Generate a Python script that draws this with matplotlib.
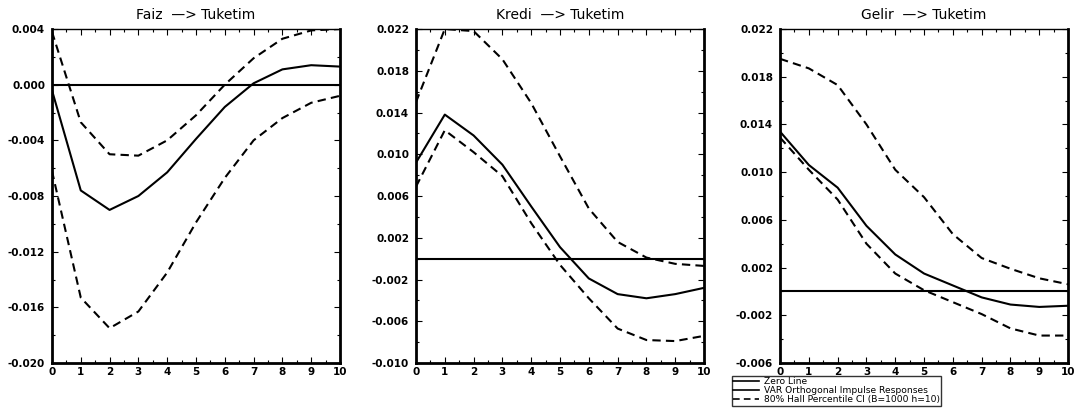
import matplotlib
matplotlib.use("Agg")
import matplotlib.pyplot as plt
import numpy as np
from matplotlib.ticker import FixedLocator, MultipleLocator, FormatStrFormatter
from matplotlib.lines import Line2D

# horizon (periods)
steps = [0, 1, 2, 3, 4, 5, 6, 7, 8, 9, 10]

# Faiz -> Tuketim
faiz_irf = [-0.0004, -0.0076, -0.0090, -0.0080, -0.0063, -0.0039, -0.0016, 0.0001, 0.0011, 0.0014, 0.0013]
faiz_up = [0.0038, -0.0027, -0.0050, -0.0051, -0.0040, -0.0022, 0.0000, 0.0019, 0.0033, 0.0039, 0.0040]
faiz_lo = [-0.0062, -0.0153, -0.0175, -0.0163, -0.0135, -0.0099, -0.0067, -0.0040, -0.0024, -0.0013, -0.0008]

# Kredi -> Tuketim
kredi_irf = [0.0092, 0.0138, 0.0118, 0.0090, 0.0050, 0.0011, -0.0019, -0.0034, -0.0038, -0.0034, -0.0028]
kredi_up = [0.0150, 0.0220, 0.0218, 0.0191, 0.0149, 0.0098, 0.0048, 0.0016, 0.0001, -0.0005, -0.0007]
kredi_lo = [0.0069, 0.0123, 0.0102, 0.0079, 0.0034, -0.0006, -0.0038, -0.0067, -0.0078, -0.0079, -0.0074]

# Gelir -> Tuketim
gelir_irf = [0.0134, 0.0106, 0.0087, 0.0055, 0.0031, 0.0015, 0.0005, -0.0005, -0.0011, -0.0013, -0.0012]
gelir_up = [0.0195, 0.0187, 0.0173, 0.0140, 0.0102, 0.0079, 0.0048, 0.0028, 0.0019, 0.0011, 0.0006]
gelir_lo = [0.0129, 0.0102, 0.0077, 0.0040, 0.0015, 0.0001, -0.0009, -0.0019, -0.0031, -0.0037, -0.0037]

titles = ["Faiz  \u2014> Tuketim", "Kredi  \u2014> Tuketim", "Gelir  \u2014> Tuketim"]
ylims = [(-0.020, 0.004), (-0.010, 0.022), (-0.006, 0.022)]
panels = [(faiz_irf, faiz_up, faiz_lo), (kredi_irf, kredi_up, kredi_lo), (gelir_irf, gelir_up, gelir_lo)]
lefts = [0.0482, 0.3859, 0.7236]

fig = plt.figure(figsize=(10.78, 4.11), dpi=100)
dash = (4, 2.5)

for i in range(3):
    ax = fig.add_axes([lefts[i], 0.1168, 0.2672, 0.8126])
    irf, up, lo = panels[i]
    ax.axhline(0, color="black", lw=1.5)
    ax.plot(steps, irf, color="black", lw=1.5)
    ax.plot(steps, up, color="black", lw=1.5, dashes=dash)
    ax.plot(steps, lo, color="black", lw=1.5, dashes=dash)
    ax.set_xlim(0, 10)
    ymin, ymax = ylims[i]
    ax.set_ylim(ymin, ymax)
    # ticks start at the bottom of the axis, every 0.004
    ax.yaxis.set_major_locator(FixedLocator(np.arange(ymin, ymax + 1e-9, 0.004)))
    ax.yaxis.set_minor_locator(FixedLocator(np.arange(ymin + 0.002, ymax, 0.004)))
    ax.xaxis.set_major_locator(MultipleLocator(1))
    ax.xaxis.set_minor_locator(MultipleLocator(0.5))
    ax.yaxis.set_major_formatter(FormatStrFormatter("%.3f"))
    ax.tick_params(which="both", direction="in", top=True, right=True, labelsize=7.5, width=0.8)
    ax.tick_params(which="major", length=4)
    ax.tick_params(which="minor", length=2.5)
    ax.tick_params(axis="x", pad=3)
    ax.tick_params(axis="y", pad=5)
    for t in ax.get_xticklabels() + ax.get_yticklabels():
        t.set_fontweight("bold")
    for s in ["left", "right", "bottom"]:
        ax.spines[s].set_linewidth(2)
    ax.spines["top"].set_linewidth(1)
    ax.set_title(titles[i], fontsize=10, pad=7)

handles = [Line2D([], [], color="black", lw=1.2),
           Line2D([], [], color="black", lw=1.2),
           Line2D([], [], color="black", lw=1.2, dashes=dash)]
labels = ["Zero Line", "VAR Orthogonal Impulse Responses", "80% Hall Percentile CI (B=1000 h=10)"]
leg = fig.legend(handles, labels, loc="upper left", bbox_to_anchor=(732 / 1078, 1 - 376 / 411),
                 fontsize=6.6, frameon=True, fancybox=False, edgecolor="black",
                 handlelength=2.8, handletextpad=0.5, labelspacing=0.0,
                 borderpad=0.15, borderaxespad=0)
leg.get_frame().set_linewidth(1)

fig.savefig("out.png", dpi=100)
